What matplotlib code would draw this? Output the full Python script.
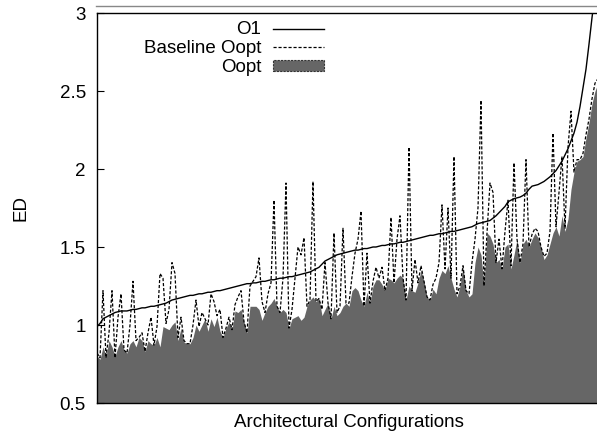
import numpy as np
import matplotlib
matplotlib.use('Agg')
import matplotlib.pyplot as plt
from matplotlib.ticker import FuncFormatter
from matplotlib.lines import Line2D
from matplotlib.patches import Patch

# ---------------- data (configurations sorted by O1) ----------------
o1 = [0.99, 1.01, 1.04, 1.05, 1.06, 1.07, 1.08, 1.085, 1.09, 1.09, 1.09, 1.095, 1.10, 1.10,
      1.105, 1.11, 1.11, 1.115, 1.12, 1.12, 1.125, 1.13, 1.135, 1.14, 1.15, 1.16, 1.165, 1.17,
      1.175, 1.18, 1.185, 1.19, 1.19, 1.195, 1.20, 1.20, 1.205, 1.21, 1.21, 1.215, 1.22, 1.22,
      1.225, 1.23, 1.235, 1.24, 1.245, 1.25, 1.255, 1.26, 1.265, 1.265, 1.27, 1.27, 1.275, 1.28,
      1.28, 1.285, 1.29, 1.29, 1.295, 1.30, 1.30, 1.305, 1.31, 1.31, 1.315, 1.32, 1.325, 1.33,
      1.335, 1.34, 1.35, 1.36, 1.37, 1.39, 1.41, 1.42, 1.43, 1.44, 1.45, 1.455, 1.46, 1.465,
      1.47, 1.475, 1.48, 1.48, 1.485, 1.49, 1.49, 1.495, 1.50, 1.50, 1.505, 1.51, 1.51, 1.515,
      1.52, 1.52, 1.525, 1.53, 1.53, 1.535, 1.54, 1.545, 1.55, 1.555, 1.56, 1.565, 1.57, 1.575,
      1.575, 1.58, 1.585, 1.585, 1.59, 1.595, 1.60, 1.60, 1.605, 1.61, 1.615, 1.62, 1.625, 1.63,
      1.64, 1.65, 1.655, 1.66, 1.665, 1.67, 1.685, 1.70, 1.72, 1.74, 1.76, 1.79, 1.80, 1.81,
      1.815, 1.82, 1.83, 1.845, 1.87, 1.89, 1.895, 1.90, 1.91, 1.92, 1.935, 1.95, 1.97, 1.99,
      2.02, 2.05, 2.09, 2.13, 2.18, 2.23, 2.30, 2.40, 2.52, 2.64, 2.80, 2.97, 3.12, 3.25]

baseline_oopt = [0.82, 0.79, 1.22, 0.79, 0.95, 1.22, 0.79, 1.05, 1.20, 0.84, 0.82, 1.00, 1.28, 0.90,
                 0.92, 0.95, 0.83, 0.95, 1.05, 0.87, 0.99, 1.33, 1.30, 1.01,
                 1.10, 1.40, 1.33, 0.92, 1.05, 0.90, 0.88, 0.88, 1.00, 1.16, 0.99, 1.08, 1.04, 1.00,
                 1.20, 1.15, 1.06, 1.10, 0.92, 0.98, 1.05, 0.97, 1.13, 1.18,
                 1.22, 1.02, 0.95, 1.25, 1.28, 1.31, 1.43, 1.15, 1.08, 1.20, 1.27, 1.80, 1.12, 1.08,
                 1.30, 1.91, 0.98, 1.10, 1.30, 1.50, 1.45, 1.56, 1.12,
                 1.16, 1.92, 1.15, 1.17, 1.10, 1.40, 1.14, 1.04, 1.59, 1.08, 1.12, 1.62, 1.14, 1.14,
                 1.31, 1.46, 1.55, 1.73, 1.12, 1.46, 1.14, 1.28, 1.37, 1.30, 1.37, 1.22, 1.30, 1.69,
                 1.27, 1.55, 1.70, 1.30, 1.16, 2.14, 1.22, 1.42, 1.27,
                 1.38, 1.28, 1.18, 1.16, 1.26, 1.30, 1.40, 1.77, 1.36, 1.75, 1.30, 2.08, 1.20, 1.25,
                 1.38, 1.22, 1.20, 1.40, 1.55, 1.75, 2.44, 1.25, 1.59, 1.91, 1.85, 1.40, 1.55, 1.36,
                 1.60, 1.80, 1.38, 2.04, 1.55, 1.40, 1.52, 2.06, 1.50, 1.58, 1.62, 1.60, 1.50, 1.44,
                 1.46, 1.60, 2.23, 1.63, 1.85, 2.08, 1.62, 2.14, 2.37, 1.98, 2.06, 2.06, 2.10, 2.22,
                 2.32, 2.45, 2.55, 2.58]

oopt = [0.80, 0.78, 0.86, 0.80, 0.90, 0.86, 0.80, 0.86, 0.90, 0.84, 0.82, 0.88, 0.90, 0.86,
        0.92, 0.90, 0.83, 0.90, 0.88, 0.87, 0.92, 0.86, 0.99, 0.98,
        0.97, 1.00, 1.02, 0.90, 0.98, 0.89, 0.88, 0.88, 0.92, 1.00, 0.96, 1.00, 1.04, 0.96,
        1.04, 0.99, 1.05, 0.96, 0.92, 0.98, 1.02, 0.97, 1.09, 1.08,
        1.10, 1.02, 0.95, 1.12, 1.12, 1.12, 1.10, 1.03, 1.08, 1.12, 1.14, 1.17, 1.12, 1.08,
        1.10, 1.08, 0.98, 1.04, 1.05, 1.06, 1.03, 1.05, 1.12,
        1.16, 1.18, 1.15, 1.17, 1.06, 1.10, 1.14, 1.04, 1.12, 1.06, 1.08, 1.12, 1.14, 1.12,
        1.22, 1.24, 1.22, 1.16, 1.12, 1.21, 1.14, 1.25, 1.29, 1.29, 1.26, 1.22, 1.30, 1.29,
        1.27, 1.30, 1.32, 1.30, 1.16, 1.25, 1.22, 1.21, 1.27,
        1.35, 1.28, 1.18, 1.16, 1.23, 1.20, 1.30, 1.35, 1.33, 1.38, 1.30, 1.23, 1.18, 1.25,
        1.37, 1.22, 1.18, 1.20, 1.40, 1.50, 1.45, 1.25, 1.59, 1.57, 1.52, 1.40, 1.42, 1.36,
        1.50, 1.52, 1.36, 1.45, 1.55, 1.40, 1.52, 1.55, 1.50, 1.55, 1.59, 1.56, 1.50, 1.42,
        1.45, 1.52, 1.59, 1.63, 1.57, 1.70, 1.60, 1.68, 1.87, 1.98, 2.05, 2.06, 2.08, 2.20,
        2.30, 2.42, 2.50, 2.55]

y_ticks = [0.5, 1, 1.5, 2, 2.5, 3]

# ---------------- figure ----------------
plt.rcParams['font.family'] = ['Liberation Sans', 'DejaVu Sans']
fs = 13.5
fig = plt.figure(figsize=(5.97, 4.32), dpi=100)
W, H = 597, 432
ax = fig.add_axes([97 / W, (H - 403) / H, 503 / W, 390 / H])

x = np.arange(len(o1))
fill_grey = '#666666'
ax.fill_between(x, 0, oopt, color=fill_grey, linewidth=0, zorder=1)
ax.plot(x, baseline_oopt, color='black', linewidth=0.9, dashes=(2.5, 1.5), zorder=2)
ax.plot(x, o1, color='black', linewidth=1.0, zorder=3)

ax.set_xlim(0, (600 - 97) / 3)
ax.set_ylim(0.5, 3)
ax.set_yticks(y_ticks)
ax.yaxis.set_major_formatter(FuncFormatter(lambda v, p: '%g' % v))
ax.set_xticks([])
ax.tick_params(axis='y', direction='in', length=5, width=0.8, labelsize=fs, pad=8)
ax.spines['right'].set_visible(False)
for s in ['left', 'top', 'bottom']:
    ax.spines[s].set_linewidth(1.0)

ax.set_xlabel('Architectural Configurations', fontsize=fs, labelpad=8)
ax.set_ylabel('ED', fontsize=fs, labelpad=22)

# grey frame line above the plot
fig.add_artist(Line2D([96 / W, 1], [1 - 5.5 / H, 1 - 5.5 / H], color='#888888', linewidth=1.0))

# legend: text right-aligned, sample to the right
h_o1 = Line2D([], [], color='black', linewidth=1.0)
h_base = Line2D([], [], color='black', linewidth=0.9, dashes=(2.5, 1.5))
h_oopt = Patch(facecolor=fill_grey, edgecolor='#333333', linestyle=(0, (2, 1)), linewidth=0.8)
leg = fig.legend([h_o1, h_base, h_oopt], ['O1', 'Baseline Oopt', 'Oopt'],
                 loc='upper right', bbox_to_anchor=(324 / W, 1 - 21.5 / H), markerfirst=False,
                 frameon=False, fontsize=fs, handlelength=2.72, handletextpad=0.64,
                 labelspacing=0.1, borderaxespad=0.0, borderpad=0.0, handleheight=0.5)

fig.savefig('out.png', dpi=100)
